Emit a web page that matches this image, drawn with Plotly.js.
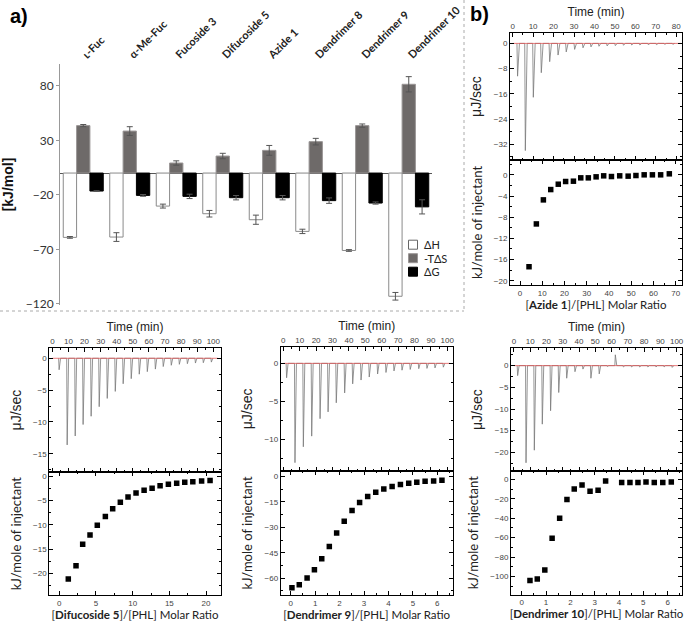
<!DOCTYPE html>
<html>
<head>
<meta charset="utf-8">
<script src="https://cdn.plot.ly/plotly-3.0.1.min.js"></script>
<style>
	body { margin: 0; background: #fff; }
	#fig { width: 685px; height: 623px; }
</style>
</head>
<body>
<div id="fig"></div>
<script>
// a) thermodynamic parameters
const compounds = ['ʟ-Fuc', 'α-Me-Fuc', 'Fucoside 3', 'Difucoside 5', 'Azide 1', 'Dendrimer 8', 'Dendrimer 9', 'Dendrimer 10'];
const dH = [-59, -58.7, -30.3, -37.3, -42.8, -53.5, -71, -113];
const dHErr = [0.8, 4, 1.8, 3, 4.2, 2, 0.8, 3.5];
const TdS = [43.5, 38.5, 9.2, 15.6, 20.8, 28.8, 43.5, 81.4];
const TdSErr = [1, 4, 2, 2.5, 4.5, 3, 1.5, 7];
const dG = [-16.5, -20.5, -21.4, -22.6, -22.6, -25.3, -27.5, -31];
const dGErr = [0.3, 0.8, 2, 2, 2, 2.5, 1, 6.5];
const seriesNames = ['ΔH', '-TΔS', 'ΔG'];
const seriesFill = ['#fff', '#6e6a69', '#000'];
const seriesEdge = ['#8a8a8a', '#9a9696', '#000'];

// b) ITC, Azide 1
const azideTime = [2.4, 6.2, 10.1, 14.0, 18.1, 22.2, 26.2, 30.3, 34.4, 38.3, 42.2, 46.2, 50.2, 54.2, 58.2, 62.2, 66.3, 70.3, 74.3, 78.3];
const azidePeak = [-10.4, -34.0, -17.1, -9.3, -5.8, -3.7, -2.7, -1.9, -1.4, -1.1, -0.9, -0.8, -0.7, -0.6, -0.5, -0.5, -0.4, -0.4, -0.3, -0.3];
const azideRatio = [4.05, 7.35, 10.5, 13.8, 17.2, 20.5, 24.0, 27.3, 30.7, 34.2, 37.6, 41.1, 44.8, 48.6, 52.1, 55.8, 59.5, 63.2, 67.1];
const azideHeat = [-17.35, -9.27, -4.73, -2.78, -1.77, -1.26, -1.2, -0.57, -0.57, -0.38, -0.19, -0.32, -0.19, -0.25, -0.13, 0, 0, 0, 0.19];

// Difucoside 5
const difTime = [4.2, 9.2, 14.2, 19.1, 24.1, 29.1, 34.1, 39.1, 44.0, 49.0, 54.0, 59.0, 64.0, 68.9, 73.9, 78.9, 83.9, 88.9, 93.8, 98.8];
const difPeak = [-1.8, -13.6, -12.2, -10.4, -9.1, -7.6, -6.3, -5.2, -4.0, -3.2, -2.5, -2.1, -1.7, -1.3, -1.1, -0.95, -0.85, -0.75, -0.7, -0.6];
const difRatio = [1.23, 2.28, 3.19, 4.19, 5.18, 6.28, 7.28, 8.32, 9.37, 10.46, 11.56, 12.65, 13.74, 14.87, 16.0, 17.1, 18.2, 19.4, 20.55];
const difHeat = [-21.1, -18.4, -14.0, -12.1, -10.1, -8.3, -6.7, -5.4, -4.3, -3.5, -2.9, -2.5, -2.0, -1.7, -1.5, -1.3, -1.2, -1.0, -0.9];

// Dendrimer 9
const d9Time = [2.0, 7.1, 12.2, 17.3, 22.4, 27.3, 32.3, 37.4, 42.3, 47.4, 52.4, 57.5, 62.6, 67.5, 72.4, 77.4, 82.6, 87.6, 92.5, 97.6];
const d9Peak = [-1.9, -13.1, -11.0, -9.6, -7.3, -6.4, -5.2, -3.9, -2.7, -2.2, -1.8, -1.4, -1.2, -1.0, -0.9, -0.8, -0.7, -0.66, -0.6, -0.5];
const d9Ratio = [0.05, 0.35, 0.67, 0.97, 1.27, 1.58, 1.88, 2.19, 2.51, 2.82, 3.15, 3.48, 3.81, 4.15, 4.49, 4.83, 5.16, 5.5, 5.85, 6.19];
const d9Heat = [-65.7, -63.9, -60.0, -55.1, -48.6, -41.3, -33.4, -26.4, -20.1, -15.3, -11.8, -9.2, -7.3, -5.9, -4.7, -3.9, -3.3, -2.75, -2.6, -2.2];

// Dendrimer 10
const d10Time = [2.25, 7.4, 12.5, 17.4, 22.5, 27.5, 32.4, 37.5, 42.4, 47.3, 52.4, 57.4, 62.3, 67.3, 72.3, 77.3, 82.3, 87.3, 92.3, 97.3];
const d10Peak = [-2.3, -22.4, -19.5, -13.5, -10.4, -6.2, -2.9, -1.4, -0.8, -2.9, -1.9, -0.2, 2.5, -0.3, -0.3, -0.3, -0.3, -0.3, -0.3, -0.4];
const d10Ratio = [0.34, 0.64, 0.95, 1.25, 1.56, 1.86, 2.16, 2.48, 2.81, 3.14, 3.45, 4.11, 4.45, 4.78, 5.11, 5.45, 5.8, 6.15];
const d10Heat = [-104.1, -102.4, -93.2, -60.6, -40.1, -20.9, -9.9, -5.8, -12.3, -11.3, -1.7, -3.4, -3.4, -3.4, -2.7, -3.4, -3.4, -2.7];

var W = 685, H = 623;
function hx(a, b) { return [a / W, b / W]; }
function vy(top, bot) { return [1 - bot / H, 1 - top / H]; }

var arial = 'Liberation Sans, Arial, sans-serif';
var calibri = 'Lato, Carlito, sans-serif';

// One: bars
var errStyle = { type: 'data', color: '#555', thickness: 1, width: 3 };
var barValues = [dH, TdS, dG];
var barErrors = [dHErr, TdSErr, dGErr];
var data = [];
for (var s = 0; s < 3; s++) {
	data.push({
		x: compounds, y: barValues[s], name: seriesNames[s], type: 'bar', showlegend: false,
		marker: { color: seriesFill[s], line: { color: seriesEdge[s], width: 1 } },
		error_y: Object.assign({ array: barErrors[s] }, errStyle),
	});
}

// ITC raw heat traces, one spike per injection
function spikes(t, p, xa, ya) {
	var x = [], y = [];
	for (var i = 0; i < t.length; i++) {
		x.push(t[i] - 0.3, t[i], t[i] + 0.9);
		y.push(0, p[i], 0);
	}
	data.push({
		x: x, y: y, mode: 'lines', type: 'scatter', showlegend: false,
		line: { color: '#7a7a7a', width: 0.8 }, xaxis: xa, yaxis: ya,
	});
	data.push({
		x: [0, Math.max.apply(null, t) + 4], y: [0, 0], mode: 'lines', type: 'scatter', showlegend: false,
		line: { color: 'rgba(225,80,80,0.75)', width: 1 }, xaxis: xa, yaxis: ya,
	});
}
function points(r, q, xa, ya) {
	data.push({
		x: r, y: q, mode: 'markers', type: 'scatter', showlegend: false,
		marker: { symbol: 'square', size: 5.5, color: '#000' }, xaxis: xa, yaxis: ya,
	});
}

spikes(azideTime, azidePeak, 'x2', 'y2');
points(azideRatio, azideHeat, 'x3', 'y3');
spikes(difTime, difPeak, 'x4', 'y4');
points(difRatio, difHeat, 'x5', 'y5');
spikes(d9Time, d9Peak, 'x6', 'y6');
points(d9Ratio, d9Heat, 'x7', 'y7');
spikes(d10Time, d10Peak, 'x8', 'y8');
points(d10Ratio, d10Heat, 'x9', 'y9');

function frame(extra, minorStep) {
	var ax = {
		showline: true, mirror: 'ticks', linecolor: '#000', linewidth: 1,
		ticks: 'inside', ticklen: 4, tickcolor: '#000', tickwidth: 1,
		showgrid: false, zeroline: false, fixedrange: true,
		tickfont: { family: arial, size: 8, color: '#444' },
		minor: { ticks: 'inside', ticklen: 2, tickcolor: '#000', dtick: minorStep },
	};
	return Object.assign(ax, extra);
}
function timeTitle() {
	return { text: 'Time (min)', font: { family: arial, size: 12, color: '#222' }, standoff: 2 };
}
function ujTitle() {
	return { text: 'μJ/sec', font: { family: arial, size: 14, color: '#222' }, standoff: 8 };
}
function kjTitle() {
	return { text: 'kJ/mole of injectant', font: { family: calibri, size: 13, color: '#222' }, standoff: 8 };
}
function ratioTitle(name) {
	return { text: '[<b>' + name + '</b>]/[PHL] Molar Ratio', font: { family: calibri, size: 11.5, color: '#222' }, standoff: 0 };
}

// legend for panel a, drawn as boxes and labels
var shapes = [
	{ type: 'line', xref: 'paper', yref: 'paper', x0: 0, x1: 464 / W, y0: 1 - 311 / H, y1: 1 - 311 / H, line: { color: '#aaa', width: 1, dash: 'dot' } },
	{ type: 'line', xref: 'paper', yref: 'paper', x0: 464 / W, x1: 464 / W, y0: 1, y1: 1 - 311 / H, line: { color: '#aaa', width: 1, dash: 'dot' } },
];
var annotations = [
	{ text: '<b>a)</b>', xref: 'paper', yref: 'paper', x: 8 / W, y: 1 - 3 / H, xanchor: 'left', yanchor: 'top', showarrow: false, font: { family: arial, size: 20, color: '#000' } },
	{ text: '<b>b)</b>', xref: 'paper', yref: 'paper', x: 468 / W, y: 1 - 1 / H, xanchor: 'left', yanchor: 'top', showarrow: false, font: { family: arial, size: 20, color: '#000' } },
];
for (var k = 0; k < seriesNames.length; k++) {
	var cy = 244.7 + k * 13.5;
	shapes.push({
		type: 'rect', xref: 'paper', yref: 'paper',
		x0: 408.5 / W, x1: 417.5 / W, y0: 1 - (cy + 4.5) / H, y1: 1 - (cy - 4.5) / H,
		fillcolor: seriesFill[k], line: { color: k == 0 ? '#666' : seriesEdge[k], width: 1 },
	});
	annotations.push({
		text: seriesNames[k], xref: 'paper', yref: 'paper', x: 422 / W, y: 1 - cy / H,
		xanchor: 'left', yanchor: 'middle', showarrow: false,
		font: { family: calibri, size: 11, color: '#222' },
	});
}

var layout = {
	width: W,
	height: H,
	margin: { l: 0, r: 0, t: 0, b: 0 },
	paper_bgcolor: '#fff',
	plot_bgcolor: 'rgba(0,0,0,0)',
	barmode: 'group',
	bargap: 0.14,
	bargroupgap: 0,
	font: { family: calibri, color: '#222' },
	showlegend: false,

	xaxis: {
		domain: hx(60, 432), anchor: 'y', type: 'category', side: 'top',
		tickangle: -45, showline: false, ticks: '', showgrid: false, fixedrange: true,
		tickfont: { family: calibri, size: 11, color: '#222', weight: 'bold' },
	},
	yaxis: {
		domain: vy(64, 305), anchor: 'x', range: [-121, 100],
		tickvals: [80, 30, -20, -70, -120], showgrid: false, fixedrange: true,
		showline: true, linecolor: '#999', linewidth: 1,
		ticks: 'outside', ticklen: 3, tickcolor: '#999',
		zeroline: true, zerolinecolor: '#555', zerolinewidth: 1,
		tickfont: { family: calibri, size: 12, color: '#333' },
		title: { text: '<b>[kJ/mol]</b>', font: { family: arial, size: 14, color: '#111' }, standoff: 14 },
	},

	xaxis2: frame({ domain: hx(510, 682), anchor: 'y2', side: 'top', range: [-1.3, 82.8], dtick: 10, title: timeTitle() }, 5),
	yaxis2: frame({ domain: vy(33, 160), anchor: 'x2', range: [-37, 3.3], dtick: 8, title: ujTitle() }, 4),
	xaxis3: frame({ domain: hx(510, 682), anchor: 'y3', range: [-4.5, 72.8], dtick: 10, title: ratioTitle('Azide 1') }, 5),
	yaxis3: frame({ domain: vy(160, 285), anchor: 'x3', range: [-20.8, 2.8], dtick: 4, title: kjTitle() }, 2),

	xaxis4: frame({ domain: hx(49.3, 220.7), anchor: 'y4', side: 'top', range: [-1.9, 104.6], dtick: 10, title: timeTitle() }, 5),
	yaxis4: frame({ domain: vy(347.7, 472.3), anchor: 'x4', range: [-17.9, 1.66], dtick: 5, title: ujTitle() }, 2.5),
	xaxis5: frame({ domain: hx(49.3, 220.7), anchor: 'y5', range: [-1.36, 22], dtick: 5, title: ratioTitle('Difucoside 5') }, 2.5),
	yaxis5: frame({ domain: vy(472.3, 595), anchor: 'x5', range: [-24.4, 0.76], dtick: 5, title: kjTitle() }, 2.5),

	xaxis6: frame({ domain: hx(280.7, 452.7), anchor: 'y6', side: 'top', range: [-1.6, 103.3], dtick: 10, title: timeTitle() }, 5),
	yaxis6: frame({ domain: vy(346.7, 471), anchor: 'x6', range: [-14.2, 2.2], dtick: 5, title: ujTitle() }, 2.5),
	xaxis7: frame({ domain: hx(280.7, 452.7), anchor: 'y7', range: [-0.41, 6.63], dtick: 1, title: ratioTitle('Dendrimer 9') }, 0.5),
	yaxis7: frame({ domain: vy(471, 595), anchor: 'x7', range: [-70, 3.3], dtick: 15, title: kjTitle() }, 7.5),

	xaxis8: frame({ domain: hx(511, 682), anchor: 'y8', side: 'top', range: [-1.84, 103.3], dtick: 10, title: timeTitle() }, 5),
	yaxis8: frame({ domain: vy(348.3, 471), anchor: 'x8', range: [-24.3, 4.0], dtick: 5, title: ujTitle() }, 2.5),
	xaxis9: frame({ domain: hx(511, 682), anchor: 'y9', range: [-0.44, 6.59], dtick: 1, title: ratioTitle('Dendrimer 10') }, 0.5),
	yaxis9: frame({ domain: vy(471, 594.5), anchor: 'x9', range: [-118.4, 8.5], dtick: 20, title: kjTitle() }, 10),

	shapes: shapes,
	annotations: annotations,
};

var config = { staticPlot: true, displayModeBar: false };

Plotly.newPlot('fig', data, layout, config);
</script>
</body>
</html>
